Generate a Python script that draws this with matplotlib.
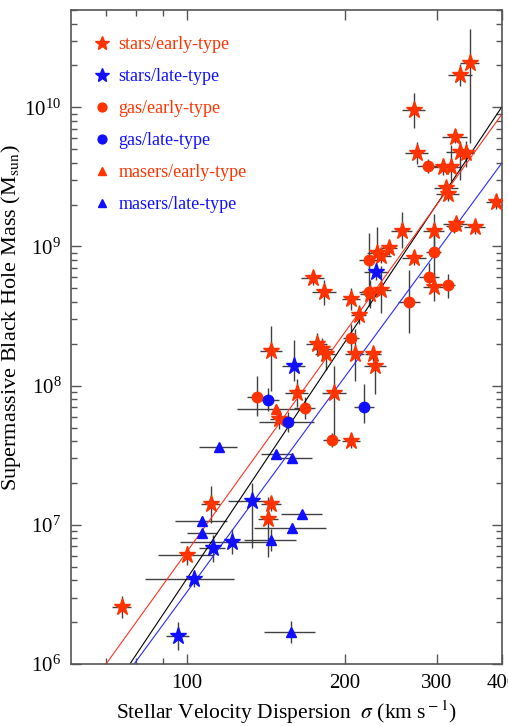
import matplotlib
matplotlib.use('Agg')
import matplotlib.pyplot as plt
from matplotlib.ticker import LogLocator, NullFormatter
import numpy as np

plt.rcParams['font.family'] = ['Liberation Serif', 'DejaVu Serif']
plt.rcParams['mathtext.fontset'] = 'stix'

# --- data: sigma (km/s), sigma error (km/s), log10 M, lower / upper error (dex) ---
se_sig = [347, 333, 271, 325, 275, 333, 341, 308, 319, 313, 315, 389, 326, 355, 257, 296,
          243, 272, 231, 235, 224, 235, 174, 183, 206, 213, 145, 177, 181, 184, 209, 227,
          229, 162, 150, 191, 206, 111, 145, 143, 100, 75, 296]
se_dsig = [15, 18, 14, 18, 14, 20, 12, 18, 14, 16, 16, 17, 17, 16, 12, 14,
           9, 14, 10, 10, 10, 10, 9, 10, 8, 7, 7, 8, 8, 8, 9, 8,
           11, 8, 6, 10, 8, 4.5, 6.4, 6.3, 12, 3, 13]
se_logm = [10.32, 10.23, 9.98, 9.79, 9.67, 9.68, 9.67, 9.57, 9.57, 9.42, 9.38, 9.32, 9.16, 9.14, 9.11, 9.11,
           8.99, 8.92, 8.95, 8.93, 8.66, 8.69, 8.77, 8.67, 8.62, 8.51, 8.25, 8.30, 8.26, 8.23, 8.23, 8.23,
           8.14, 7.95, 7.76, 7.95, 7.60, 7.15, 7.15, 7.04, 6.78, 6.41, 8.71]
se_lo = [0.58, 0.08, 0.13, 0.05, 0.08, 0.20, 0.10, 0.06, 0.10, 0.05, 0.05, 0.05, 0.05, 0.05, 0.12, 0.12,
         0.05, 0.05, 0.05, 0.05, 0.10, 0.17, 0.05, 0.09, 0.08, 0.07, 0.29, 0.08, 0.08, 0.12, 0.20, 0.05,
         0.20, 0.10, 0.07, 0.32, 0.05, 0.14, 0.05, 0.27, 0.07, 0.08, 0.10]
se_hi = [0.24, 0.08, 0.12, 0.05, 0.08, 0.08, 0.09, 0.06, 0.16, 0.05, 0.05, 0.05, 0.06, 0.05, 0.14, 0.12,
         0.05, 0.05, 0.19, 0.05, 0.10, 0.17, 0.05, 0.09, 0.08, 0.07, 0.18, 0.08, 0.08, 0.05, 0.18, 0.05,
         0.09, 0.10, 0.07, 0.19, 0.05, 0.13, 0.05, 0.16, 0.07, 0.08, 0.10]

sl_sig = [230, 160, 133, 122, 112, 103, 96]
sl_dsig = [12, 8, 13, 25, 6.4, 20, 5]
sl_logm = [8.82, 8.14, 7.17, 6.88, 6.83, 6.61, 6.20]
sl_lo = [0.06, 0.11, 0.34, 0.09, 0.10, 0.06, 0.10]
sl_hi = [0.06, 0.19, 0.13, 0.09, 0.10, 0.06, 0.10]

ge_sig = [289, 324, 296, 223, 290, 315, 223, 266, 206, 136, 168, 189]
ge_dsig = [14, 12, 10, 10, 13, 10, 10, 13, 7, 6, 8, 7]
ge_logm = [9.58, 9.15, 8.96, 8.90, 8.78, 8.72, 8.67, 8.60, 8.34, 7.92, 7.84, 7.61]
ge_lo = [0.05, 0.05, 0.17, 0.05, 0.07, 0.09, 0.10, 0.22, 0.10, 0.14, 0.08, 0.05]
ge_hi = [0.05, 0.05, 0.17, 0.20, 0.10, 0.08, 0.20, 0.23, 0.10, 0.15, 0.08, 0.05]

gl_sig = [143, 156, 218]
gl_dsig = [7, 18.6, 9.6]
gl_logm = [7.90, 7.74, 7.85]
gl_lo = [0.08, 0.07, 0.12]
gl_hi = [0.08, 0.07, 0.16]

me_sig = [148]
me_dsig = [23.5]
me_logm = [7.83]
me_lo = [0.04]
me_hi = [0.04]

ml_sig = [115, 148, 159, 166, 159, 145, 107, 107, 158]
ml_dsig = [9.6, 9.8, 14, 15, 25, 16.6, 12, 7, 18]
ml_logm = [7.56, 7.51, 7.48, 7.08, 6.98, 6.89, 7.03, 6.94, 6.23]
ml_lo = [0.03, 0.03, 0.03, 0.03, 0.03, 0.08, 0.03, 0.03, 0.08]
ml_hi = [0.03, 0.03, 0.03, 0.03, 0.03, 0.08, 0.03, 0.03, 0.08]

# fits: log M = a + b log(sigma / 200)
fit_a = [8.31, 8.38, 8.06]
fit_b = [5.63, 5.22, 5.12]
fit_colors = ['black', '#ff3322', '#2a2aff']

RED = '#ff3300'
BLUE = '#1010ff'
ERR = '#404040'

fig = plt.figure(figsize=(5.08, 7.26), dpi=100)
ax = fig.add_axes([0.1398, 0.0854, 0.8484, 0.9008])
ax.set_xscale('log')
ax.set_yscale('log')

sig_line = np.array([60, 400])
for a, b, c in zip(fit_a, fit_b, fit_colors):
    ax.plot(sig_line, 10 ** (a + b * np.log10(sig_line / 200)), color=c, lw=0.8, zorder=2)


def draw(sig, dsig, logm, lo, hi, marker, color, ms, label):
    sig = np.array(sig, float)
    logm = np.array(logm, float)
    m = 10 ** logm
    yerr = [m - 10 ** (logm - np.array(lo)), 10 ** (logm + np.array(hi)) - m]
    ax.errorbar(sig, m, xerr=dsig, yerr=yerr, fmt='none', ecolor=ERR, elinewidth=1.0,
                capsize=0, zorder=1)
    ax.plot(sig, m, linestyle='none', marker=marker, color=color, mec=color, ms=ms,
            zorder=3, label=label)


draw(se_sig, se_dsig, se_logm, se_lo, se_hi, '*', RED, 12.5, 'stars/early-type')
draw(sl_sig, sl_dsig, sl_logm, sl_lo, sl_hi, '*', BLUE, 12.5, 'stars/late-type')
draw(ge_sig, ge_dsig, ge_logm, ge_lo, ge_hi, 'o', RED, 7.5, 'gas/early-type')
draw(gl_sig, gl_dsig, gl_logm, gl_lo, gl_hi, 'o', BLUE, 7.5, 'gas/late-type')
draw(me_sig, me_dsig, me_logm, me_lo, me_hi, '^', RED, 6.5, 'masers/early-type')
draw(ml_sig, ml_dsig, ml_logm, ml_lo, ml_hi, '^', BLUE, 6.5, 'masers/late-type')

ax.set_xlim(60, 400)
ax.set_ylim(1e6, 5e10)

ax.set_xticks([100, 200, 300, 400], labels=['100', '200', '300', '400'])
ax.set_xticks([70, 80, 90], minor=True)
ax.xaxis.set_minor_formatter(NullFormatter())
ax.yaxis.set_major_locator(LogLocator(base=10, numticks=10))
ax.yaxis.set_minor_locator(LogLocator(base=10, subs=np.arange(2, 10), numticks=20))
ax.yaxis.set_minor_formatter(NullFormatter())

ax.tick_params(which='both', direction='in', top=True, right=True, color='#555555',
               labelsize=15, pad=7)
ax.tick_params(which='major', length=7, width=1)
ax.tick_params(which='minor', length=4, width=1)
for s in ax.spines.values():
    s.set_color('#555555')
    s.set_linewidth(1.2)

ax.set_xlabel('Stellar Velocity Dispersion  $\\sigma$ (km s$^{\\rm -1}$)', fontsize=15.5)
ax.xaxis.set_label_coords(0.5, -0.052)
ax.set_ylabel('Supermassive Black Hole Mass (M$_{\\rm sun}$)', fontsize=16)
ax.yaxis.set_label_coords(-0.112, 0.53)

ax.legend(loc='upper left', bbox_to_anchor=(0.05, 0.96), frameon=False, fontsize=13,
          handlelength=1.0, handletextpad=0.45, labelspacing=0.83, borderpad=0,
          borderaxespad=0, markerscale=0.85,
          labelcolor=[RED, BLUE, RED, BLUE, RED, BLUE])

fig.savefig('out.png', dpi=100)
